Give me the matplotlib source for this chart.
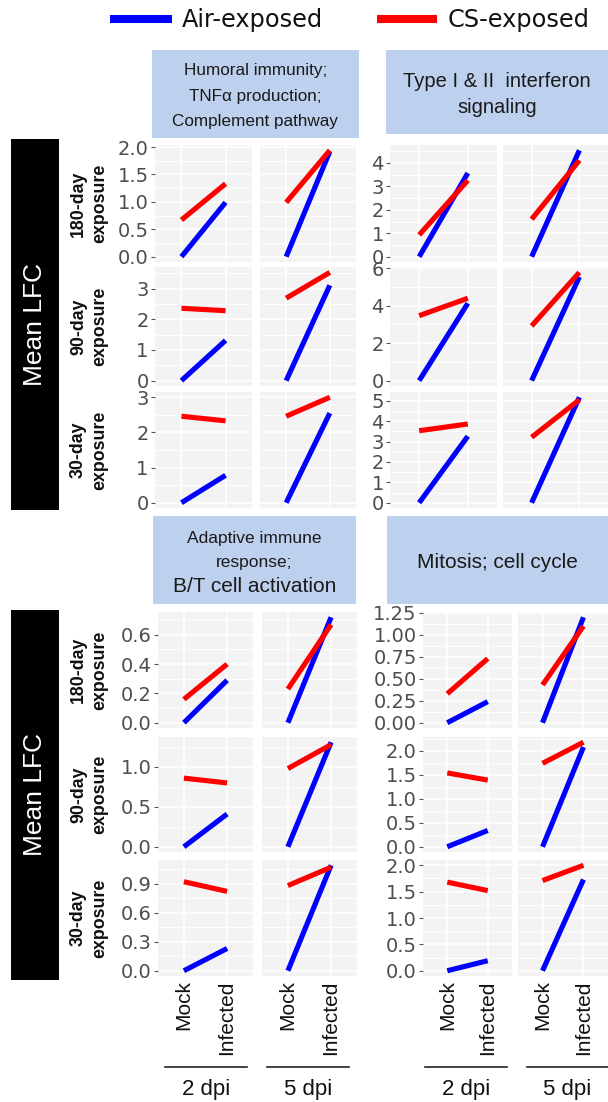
import matplotlib
matplotlib.use('Agg')
import matplotlib.pyplot as plt
from matplotlib.patches import Rectangle
import numpy as np

plt.rcParams['font.family'] = ['Liberation Sans', 'DejaVu Sans']

# ---------------- data ----------------
conditions = ['Mock', 'Infected']
dpi_labels = ['2 dpi', '5 dpi']
exposures = ['180-day\nexposure', '90-day\nexposure', '30-day\nexposure']
groups = ['Air-exposed', 'CS-exposed']
group_colors = ['#0000FF', '#FF0000']

# rows: 180-day, 90-day, 30-day ; columns: 2dpi Mock, 2dpi Infected, 5dpi Mock, 5dpi Infected
humoral_air = [[0, 0.99, 0, 1.92], [0, 1.31, 0, 3.11], [0, 0.78, 0, 2.55]]
humoral_cs = [[0.67, 1.33, 0.99, 1.94], [2.36, 2.28, 2.69, 3.53], [2.46, 2.33, 2.46, 3.00]]
interferon_air = [[0, 3.57, 0, 4.54], [0, 4.13, 0, 5.54], [0, 3.26, 0, 5.17]]
interferon_cs = [[0.93, 3.26, 1.60, 4.11], [3.47, 4.40, 2.92, 5.78], [3.53, 3.86, 3.21, 5.05]]
adaptive_air = [[0, 0.29, 0, 0.72], [0, 0.41, 0, 1.31], [0, 0.23, 0, 1.09]]
adaptive_cs = [[0.16, 0.40, 0.23, 0.67], [0.86, 0.80, 0.98, 1.28], [0.92, 0.82, 0.88, 1.07]]
mitosis_air = [[0, 0.24, 0, 1.20], [0, 0.34, 0, 2.08], [0, 0.19, 0, 1.73]]
mitosis_cs = [[0.33, 0.73, 0.43, 1.10], [1.54, 1.39, 1.74, 2.18], [1.68, 1.52, 1.71, 2.00]]

humoral_ticks = [[0, 0.5, 1.0, 1.5, 2.0], [0, 1, 2, 3], [0, 1, 2, 3]]
interferon_ticks = [[0, 1, 2, 3, 4], [0, 2, 4, 6], [0, 1, 2, 3, 4, 5]]
adaptive_ticks = [[0, 0.2, 0.4, 0.6], [0, 0.5, 1.0], [0, 0.3, 0.6, 0.9]]
mitosis_ticks = [[0, 0.25, 0.5, 0.75, 1.0, 1.25], [0, 0.5, 1.0, 1.5, 2.0], [0, 0.5, 1.0, 1.5, 2.0]]
humoral_fmt = ['{:.1f}', '{:.0f}', '{:.0f}']
interferon_fmt = ['{:.0f}', '{:.0f}', '{:.0f}']
adaptive_fmt = ['{:.1f}', '{:.1f}', '{:.1f}']
mitosis_fmt = ['{:.2f}', '{:.1f}', '{:.1f}']

# ---------------- layout (pixels) ----------------
W, H = 608, 1102
fig = plt.figure(figsize=(W / 100, H / 100), dpi=100)
ov = fig.add_axes([0, 0, 1, 1])
ov.set_xlim(0, W)
ov.set_ylim(H, 0)
ov.axis('off')

TOP_ROWS = [(145, 262), (267, 386), (392, 508)]
BOT_ROWS = [(612, 728), (737, 852), (860, 976)]

pathways = [
    dict(air=humoral_air, cs=humoral_cs, ticks=humoral_ticks, fmt=humoral_fmt,
         cols=[(155, 252), (260, 356)], rows=TOP_ROWS, xlabels=False),
    dict(air=interferon_air, cs=interferon_cs, ticks=interferon_ticks, fmt=interferon_fmt,
         cols=[(390, 497), (503, 608)], rows=TOP_ROWS, xlabels=False),
    dict(air=adaptive_air, cs=adaptive_cs, ticks=adaptive_ticks, fmt=adaptive_fmt,
         cols=[(158, 253), (262, 357)], rows=BOT_ROWS, xlabels=True),
    dict(air=mitosis_air, cs=mitosis_cs, ticks=mitosis_ticks, fmt=mitosis_fmt,
         cols=[(423, 512), (518, 608)], rows=BOT_ROWS, xlabels=True),
]

PANEL_BG = '#F3F3F3'
TICK_COL = '#4D4D4D'


def add_panel(x0, x1, y0, y1):
    return fig.add_axes([x0 / W, 1 - y1 / H, (x1 - x0) / W, (y1 - y0) / H])


for pw in pathways:
    for r in range(3):
        vals = pw['air'][r] + pw['cs'][r]
        lo, hi = min(vals), max(vals)
        pad = 0.05 * (hi - lo)
        majors = pw['ticks'][r]
        step = majors[1] - majors[0]
        minors = [m + step / 2 for m in majors[:-1]]
        minors += [majors[-1] + step / 2, majors[0] - step / 2]
        y0, y1 = pw['rows'][r]
        for c in range(2):
            x0, x1 = pw['cols'][c]
            ax = add_panel(x0, x1, y0, y1)
            ax.set_facecolor(PANEL_BG)
            for s in ax.spines.values():
                s.set_visible(False)
            for g in range(2):
                data = pw['air'] if g == 0 else pw['cs']
                ax.plot(conditions, data[r][2 * c:2 * c + 2], color=group_colors[g],
                        lw=3.7, solid_capstyle='butt', zorder=3 + g)
            ax.set_xlim(-0.6, 1.6)
            ax.set_ylim(lo - pad, hi + pad)
            ax.set_yticks(majors)
            ax.set_yticks([m for m in minors if lo - pad < m < hi + pad], minor=True)
            ax.grid(which='major', color='white', lw=1.2)
            ax.grid(which='minor', axis='y', color='white', lw=0.6)
            ax.set_axisbelow(True)
            ax.tick_params(which='minor', length=0)
            if c == 0:
                ax.set_yticklabels([pw['fmt'][r].format(m) for m in majors],
                                   fontfamily='DejaVu Sans', fontsize=14, color=TICK_COL)
                ax.tick_params(axis='y', length=3, width=0.8, color='#555555', pad=1.5)
            else:
                ax.tick_params(axis='y', labelleft=False, length=0)
            if pw['xlabels'] and r == 2:
                ax.tick_params(axis='x', length=0, pad=3)
                ax.set_xticklabels(conditions, rotation=90, fontsize=15, color='#111111')
            else:
                ax.tick_params(axis='x', labelbottom=False, length=0)

# ---------------- decorations ----------------
STRIP = '#BDD0EE'
# legend
ov.plot([110, 172], [19, 19], color=group_colors[0], lw=5.8, solid_capstyle='butt')
ov.text(182, 27, groups[0], fontfamily='DejaVu Sans', fontsize=17.3, va='baseline', ha='left', color='#111111')
ov.plot([377, 437], [19, 19], color=group_colors[1], lw=5.8, solid_capstyle='butt')
ov.text(448, 27, groups[1], fontfamily='DejaVu Sans', fontsize=17.3, va='baseline', ha='left', color='#111111')

# strips
ov.add_patch(Rectangle((152, 50), 207, 88, color=STRIP, lw=0))
for txt, yb in [('Humoral immunity;', 75), ('TNFα production;', 101), ('Complement pathway', 126)]:
    ov.text(255.5, yb, txt, fontsize=12.3, ha='center', va='baseline', color='#1a1a1a')
ov.add_patch(Rectangle((386, 50), 230, 84, color=STRIP, lw=0))
for txt, yb in [('Type I & II  interferon', 87), ('signaling', 113)]:
    ov.text(497, yb, txt, fontsize=14.5, ha='center', va='baseline', color='#1a1a1a')
ov.add_patch(Rectangle((153, 516), 203, 88, color=STRIP, lw=0))
for txt, yb, fs in [('Adaptive immune', 543, 12.5), ('response;', 567, 12.5), ('B/T cell activation', 592, 15)]:
    ov.text(254.5, yb, txt, fontsize=fs, ha='center', va='baseline', color='#1a1a1a')
ov.add_patch(Rectangle((387, 516), 230, 88, color=STRIP, lw=0))
ov.text(497, 568, 'Mitosis; cell cycle', fontsize=15, ha='center', va='baseline', color='#1a1a1a')

# Mean LFC boxes and row labels
for (by0, by1), rows in [((139, 510), TOP_ROWS), ((610, 980), BOT_ROWS)]:
    ov.add_patch(Rectangle((11, by0), 48, by1 - by0, color='black', lw=0))
    ov.text(35, (by0 + by1) / 2, 'Mean LFC', color='white', fontsize=19, rotation=90,
            ha='center', va='center')
    for (ry0, ry1), lab in zip(rows, exposures):
        ov.text(89, (ry0 + ry1) / 2, lab, fontsize=12.8, fontweight='bold', rotation=90,
                ha='center', va='center', multialignment='center', linespacing=1.3, color='#111111')

# dpi brackets
for xs, centers in [([(165, 247), (267, 349)], [206, 308]), ([(425, 507), (527, 612)], [466, 567])]:
    for (a, b), cx, lab in zip(xs, centers, dpi_labels):
        ov.plot([a, b], [1067, 1067], color='#222222', lw=1.2)
        ov.text(cx, 1095, lab, fontsize=16, ha='center', va='baseline', color='#111111')

fig.savefig('out.png', dpi=100)
